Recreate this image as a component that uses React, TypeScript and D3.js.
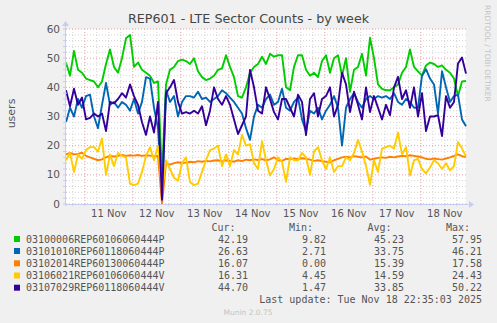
import React from "react";
import * as d3 from "d3";

const title = "REP601 - LTE Sector Counts - by week";
const yLabel = "users";
const seriesNames = [
  "03100006REP60106060444P",
  "03101010REP60118060444P",
  "03102014REP60130060444P",
  "03106021REP60106060444V",
  "03107029REP60118060444V",
];
const seriesColors = ["#00cc00", "#0066b3", "#ff8000", "#ffcc00", "#330099"];

const green = [
  48.5, 44, 52.5, 46, 45, 43, 42.5, 42, 40, 42,
  48, 53, 47, 45, 50, 56.8, 57.95, 47, 48.5, 46,
  45, 44, 41.5, 42, 9.82, 41, 46, 47, 49, 49.5,
  49, 48, 50, 45.5, 43.5, 42.5, 43, 44, 46, 46.5,
  51, 47, 43.5, 37, 36.5, 40, 45, 47, 48, 50.5,
  48, 51.5, 50.5, 51, 51, 40, 39, 47, 51, 51,
  46, 44, 45, 43.5, 49, 51, 45, 50, 51, 44,
  50, 38.5, 46, 47, 51.5, 44, 57, 50, 41, 39.5,
  39, 39, 40, 41, 45, 47, 53, 47, 45.5, 44,
  47.5, 48.5, 48, 47, 47.5, 46, 45, 43, 37, 42,
  42.19,
];
const blue = [
  28, 33, 30, 36, 33, 37, 37.5, 30, 26, 34,
  41.5, 34, 35, 33, 35, 34, 32, 36, 31, 35,
  43.5, 43, 33, 26, 2.71, 39, 35, 37, 30, 35,
  37, 37, 36.5, 38.5, 36, 36.5, 35, 36, 37, 39,
  38, 36.5, 35, 33, 31, 26, 22, 30, 34, 33,
  36, 37.5, 34, 35, 39.5, 33, 32, 35, 36.5, 29,
  25, 32, 31, 33, 29, 32, 34, 37, 33, 20,
  33, 36, 38, 35, 33, 36, 37, 36, 37, 36.5,
  37, 36, 38, 35, 34, 36, 35, 33, 33, 44,
  46.21, 43, 41, 31, 45.5, 40, 35, 37, 37.5, 29,
  26.63,
];
const orange = [
  17, 17.5, 17, 17.2, 17.58, 16.5, 16, 15.5, 15, 15.3,
  16, 16.5, 16.3, 16.5, 16.8, 16.5, 16.7, 16.6, 16.8, 16.5,
  16.7, 16.6, 16.4, 16.5, 0, 14, 13.5, 14, 14.3, 14,
  14.2, 14.5, 14.3, 14.7, 14.5, 14.8, 14.6, 14.9, 15, 14.6,
  15, 14.8, 14.5, 15, 14.7, 15.2, 15, 15.3, 15.1, 15.4,
  15, 15.3, 16, 15, 14.8, 15.5, 15.3, 15.6, 15.4, 15.7,
  15.5, 15.2, 14.8, 15, 14.7, 14.5, 14.3, 15, 15.5, 16,
  16.2, 16, 16.4, 16.2, 16, 16.3, 15.2, 15.5, 15.8, 16,
  15.8, 16.2, 16, 16.3, 16.5, 16.4, 16.7, 16.5, 16.3, 16,
  15.5, 15.3, 15.6, 15.4, 15.2, 15.6, 16, 16.5, 17, 16.4,
  16.07,
];
const yellow = [
  15, 17.5, 11, 17, 15.5, 18.5, 19.5, 19.5, 18, 22.5,
  10, 17, 13, 17.5, 16.5, 16, 7, 6.5, 7, 11,
  16.5, 19.5, 15, 20, 4.45, 15, 12, 9, 8, 14,
  16, 7.5, 6.5, 7, 11, 15, 18.5, 19, 20, 13,
  17, 13, 18.5, 17, 23.7, 20, 20.5, 14, 12, 21.5,
  15, 9.8, 12, 16, 14.5, 7.6, 16, 15, 15, 17.5,
  16, 10, 18, 19.5, 15, 12, 16, 11, 13, 13,
  16, 15, 17.5, 22, 18, 13, 6.6, 15, 11, 19,
  19.5, 20, 19, 24.43, 17, 19.5, 9.8, 15, 15.5, 12,
  10.5, 12.5, 15, 14, 12, 14, 11.5, 13, 21.3, 19,
  16.31,
];
const purple = [
  39, 33.5, 39.5, 34, 36.5, 29, 29.5, 31, 30, 31,
  25, 35, 34.5, 36, 38, 36.5, 41, 37, 34, 28,
  23.7, 30, 24.5, 35, 1.47, 38, 40, 42.5, 35, 31,
  31.5, 31, 32, 31, 33.5, 27, 32, 40, 36, 34,
  37, 34, 29, 24, 27, 30, 46, 40, 32, 31,
  40, 36, 31.5, 29, 36, 36, 33, 30, 37.5, 35,
  23.6, 36, 38, 30, 36, 37, 40, 30, 34, 45,
  41, 31.5, 38.5, 34, 29, 40, 31.5, 37, 33, 29,
  34, 30.5, 40, 43.6, 36, 39, 33, 40, 30, 38,
  25, 30, 30, 30.5, 23.3, 37, 33, 35, 48.2, 50.22,
  44.7,
];
const seriesValues = [green, blue, orange, yellow, purple];

const statHeaders = ["Cur:", "Min:", "Avg:", "Max:"];
const curVals = ["42.19", "26.63", "16.07", "16.31", "44.70"];
const minVals = ["9.82", "2.71", "0.00", "4.45", "1.47"];
const avgVals = ["45.23", "33.75", "15.39", "14.59", "33.85"];
const maxVals = ["57.95", "46.21", "17.58", "24.43", "50.22"];
const yTicks = [0, 10, 20, 30, 40, 50, 60];
const lastUpdate = "Last update: Tue Nov 18 22:35:03 2025";
const footer = "Munin 2.0.75";
const sideText = "RRDTOOL / TOBI OETIKER";

export default function App() {
  const W = 497;
  const H = 323;
  const L = 66, R = 466, T = 29, B = 204;
  const end = new Date(2025, 10, 18, 22, 35, 3);
  const start = new Date(end.getTime() - 200 * 3600 * 1000);
  const x = d3.scaleTime().domain([start, end]).range([L, R]);
  const y = d3.scaleLinear().domain([0, 60]).range([B, T]);
  const stepMs = 2 * 3600 * 1000;
  const line = d3
    .line<number>()
    .x((_, i) => x(new Date(start.getTime() + i * stepMs)))
    .y((v) => y(v));

  const minorX = d3.timeHour.every(6)!.range(start, end).filter((d) => d.getHours() !== 0);
  const majorX = d3.timeDay.range(start, end);
  const labelX = d3.timeDay
    .range(d3.timeDay.offset(start, -1), end)
    .map((d) => d3.timeHour.offset(d, 12))
    .filter((d) => d >= start && d <= end);
  const fmt = d3.timeFormat("%-d %b");
  const minorY = d3.range(0, 61, 2).filter((v) => v % 10 !== 0);

  const axisColor = "#c8cdf0";
  const textColor = "#555";
  const mono = "'DejaVu Sans Mono', monospace";
  const sans = "'DejaVu Sans', sans-serif";

  const legendRowY = [239, 251, 263.3, 275.5, 287.7];
  const colRight = [248, 326, 404, 482];
  const headRight = [235.5, 313, 391.5, 470];
  const stats = [curVals, minVals, avgVals, maxVals];

  return (
    <div>
      <style>{"body{margin:0;}"}</style>
      <svg width={W} height={H} style={{ display: "block", background: "#f0f0f0" }}>
        <rect x={0} y={0} width={W} height={H} fill="#f0f0f0" />
        <rect x={L} y={T} width={R - L} height={B - T} fill="#ffffff" />
        {minorX.map((d, i) => (
          <line key={"mx" + i} x1={x(d)} x2={x(d)} y1={T} y2={B} stroke="#d4d4d4" strokeWidth={1} strokeDasharray="1,2" />
        ))}
        {minorY.map((v, i) => (
          <line key={"my" + i} x1={L} x2={R} y1={y(v)} y2={y(v)} stroke="#d4d4d4" strokeWidth={1} strokeDasharray="1,2" />
        ))}
        {majorX.map((d, i) => (
          <line key={"Mx" + i} x1={x(d)} x2={x(d)} y1={T} y2={B} stroke="#ee9a9a" strokeWidth={1} strokeDasharray="1,2" />
        ))}
        {yTicks.map((v, i) => (
          <line key={"My" + i} x1={L} x2={R} y1={y(v)} y2={y(v)} stroke="#ee9a9a" strokeWidth={1} strokeDasharray="1,2" />
        ))}
        {seriesValues.map((vals, si) => (
          <path key={"s" + si} d={line(vals) || ""} fill="none" stroke={seriesColors[si]} strokeWidth={1.9} strokeLinejoin="round" />
        ))}
        <line x1={L} x2={R + 4} y1={B + 0.5} y2={B + 0.5} stroke={axisColor} strokeWidth={1} />
        <line x1={L - 0.5} x2={L - 0.5} y1={B + 2} y2={T - 4} stroke={axisColor} strokeWidth={1} />
        <path d={`M${R + 3},${B - 3} L${R + 8},${B + 0.5} L${R + 3},${B + 4} Z`} fill={axisColor} />
        <path d={`M${L - 4},${T - 3} L${L - 0.5},${T - 8} L${L + 3},${T - 3} Z`} fill={axisColor} />
        {minorX.concat(majorX).map((d, i) => (
          <line key={"tx" + i} x1={x(d)} x2={x(d)} y1={B - 1} y2={B + 2} stroke={axisColor} strokeWidth={1} />
        ))}
        {minorY.concat(yTicks).map((v, i) => (
          <line key={"ty" + i} x1={L - 3} x2={L + 1} y1={y(v)} y2={y(v)} stroke={axisColor} strokeWidth={1} />
        ))}
        {yTicks.map((v, i) => (
          <text key={"yl" + i} x={60} y={y(v) + 3.5} textAnchor="end" fontFamily={sans} fontSize={10.5} fill={textColor}>
            {v}
          </text>
        ))}
        {labelX.map((d, i) => (
          <text key={"xl" + i} x={x(d)} y={217} textAnchor="middle" fontFamily={sans} fontSize={10} fill={textColor}>
            {fmt(d)}
          </text>
        ))}
        <text x={248.5} y={23} textAnchor="middle" fontFamily={sans} fontSize={12.7} fill="#444">
          {title}
        </text>
        <text transform={`translate(15,113.5) rotate(-90)`} textAnchor="middle" fontFamily={sans} fontSize={11} fill={textColor}>
          {yLabel}
        </text>
        <text transform={`translate(485,5) rotate(90)`} textAnchor="start" fontFamily={sans} fontSize={7.5} fill="#c4c4c4">
          {sideText}
        </text>
        {statHeaders.map((h, i) => (
          <text key={"h" + i} x={headRight[i]} y={231} textAnchor="end" fontFamily={mono} fontSize={10} fill={textColor}>
            {h}
          </text>
        ))}
        {seriesNames.map((name, si) => (
          <g key={"lg" + si}>
            <rect x={14} y={legendRowY[si] - 3} width={6} height={6} fill={seriesColors[si]} />
            <text x={26} y={legendRowY[si] + 3.5} fontFamily={mono} fontSize={10} fill={textColor}>
              {name}
            </text>
            {stats.map((col, ci) => (
              <text key={"v" + ci} x={colRight[ci]} y={legendRowY[si] + 3.5} textAnchor="end" fontFamily={mono} fontSize={10} fill={textColor}>
                {col[si]}
              </text>
            ))}
          </g>
        ))}
        <text x={482} y={303} textAnchor="end" fontFamily={mono} fontSize={10} fill={textColor}>
          {lastUpdate}
        </text>
        <text x={248} y={315} textAnchor="middle" fontFamily={sans} fontSize={7.5} fill="#c4c4c4">
          {footer}
        </text>
      </svg>
    </div>
  );
}
